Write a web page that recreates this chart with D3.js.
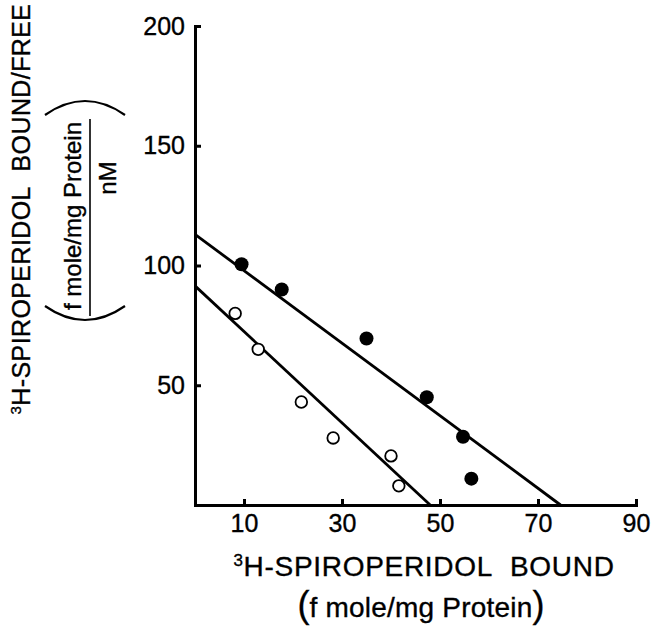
<!DOCTYPE html>
<meta charset="utf-8">
<script src="https://d3js.org/d3.v7.min.js"></script>
<style>

body {
    margin: 0;
    background: #fff;
}

svg text {
    font-family: "Liberation Sans", Arial, Helvetica, sans-serif;
    fill: #000;
    stroke: #000;
    stroke-width: 0.35px;
}

.axis path, .axis line {
    stroke: #000;
    stroke-width: 3px;
}

.fit {
    stroke: #000;
    stroke-width: 2.8px;
    fill: none;
}

</style>
<body>
<script>

// filled circles
var filledX = [9.5, 17.7, 35, 47.3, 54.7, 56.4]
var filledY = [100.5, 90, 69.5, 45, 28.5, 11]

// open circles
var openX = [8.2, 12.9, 21.7, 28.2, 40, 41.6]
var openY = [80, 65, 43, 28, 20.5, 8]

// fitted lines, [start, end]
var fitFilledX = [0, 74.6]
var fitFilledY = [113, 0]
var fitOpenX = [0, 48]
var fitOpenY = [91.5, 0]

var xTicks = [10, 30, 50, 70, 90]
var yTicks = [50, 100, 150, 200]

var width = 653,
    height = 629

var svg = d3.select("body").append("svg")
    .attr("width", width)
    .attr("height", height)

var x = d3.scaleLinear().domain([0, 90]).range([195, 636])
var y = d3.scaleLinear().domain([0, 200]).range([505, 26])

var xAxis = d3.axisBottom(x)
    .tickValues(xTicks)
    .tickSizeInner(-6)
    .tickSizeOuter(0)
    .tickPadding(9)

var yAxis = d3.axisLeft(y)
    .tickValues(yTicks)
    .tickSizeInner(-6)
    .tickSizeOuter(0)
    .tickPadding(10)

var gx = svg.append("g")
    .attr("class", "axis")
    .attr("transform", "translate(0," + y(0) + ")")
    .call(xAxis)

var gy = svg.append("g")
    .attr("class", "axis")
    .attr("transform", "translate(" + x(0) + ",0)")
    .call(yAxis)

svg.selectAll(".axis text")
    .style("font-size", "25px")
    .style("font-family", "'Liberation Sans', Arial, sans-serif")

svg.selectAll(".axis .domain").attr("stroke-linecap", "square")

// fitted lines
function fitLine(xs, ys) {
    return d3.line()
        .x(function(d) { return x(d[0]) })
        .y(function(d) { return y(d[1]) })(d3.zip(xs, ys))
}

svg.append("path").attr("class", "fit").attr("d", fitLine(fitFilledX, fitFilledY))
svg.append("path").attr("class", "fit").attr("d", fitLine(fitOpenX, fitOpenY))

// points
svg.selectAll(".filled")
    .data(d3.zip(filledX, filledY))
    .enter().append("circle")
    .attr("class", "filled")
    .attr("cx", function(d) { return x(d[0]) })
    .attr("cy", function(d) { return y(d[1]) })
    .attr("r", 7)
    .attr("fill", "#000")

svg.selectAll(".open")
    .data(d3.zip(openX, openY))
    .enter().append("circle")
    .attr("class", "open")
    .attr("cx", function(d) { return x(d[0]) })
    .attr("cy", function(d) { return y(d[1]) })
    .attr("r", 5.8)
    .attr("fill", "#fff")
    .attr("stroke", "#000")
    .attr("stroke-width", 1.8)

// x axis title
var xt = svg.append("text")
    .attr("x", 424)
    .attr("y", 576)
    .attr("text-anchor", "middle")
    .style("font-size", "28px")
    .style("letter-spacing", "0.7px")
xt.append("tspan").text("3")
    .style("font-size", "17px")
    .attr("dy", "-10")
xt.append("tspan").text("H-SPIROPERIDOL\u00a0\u00a0BOUND")
    .attr("dy", "10")

var xt2 = svg.append("text")
    .attr("x", 421)
    .attr("y", 617)
    .attr("text-anchor", "middle")
    .style("font-size", "28px")
    .style("letter-spacing", "0.2px")
xt2.append("tspan").text("(").style("font-size", "36px")
xt2.append("tspan").text("f mole/mg Protein")
xt2.append("tspan").text(")").style("font-size", "36px")

// y axis title
var yt = svg.append("g")
    .attr("transform", "translate(30,209) rotate(-90)")

var yt1 = yt.append("text")
    .attr("text-anchor", "middle")
    .style("font-size", "25px")
    .style("letter-spacing", "0.4px")
yt1.append("tspan").text("3")
    .style("font-size", "15px")
    .attr("dy", "-9")
yt1.append("tspan").text("H-SPIROPERIDOL\u00a0\u00a0BOUND/FREE")
    .attr("dy", "9")

var frac = svg.append("g")
    .attr("transform", "translate(85,216) rotate(-90)")

frac.append("text")
    .attr("x", 0)
    .attr("y", -4)
    .attr("text-anchor", "middle")
    .style("font-size", "24px")
    .text("f mole/mg Protein")

frac.append("line")
    .attr("x1", -100).attr("x2", 97)
    .attr("y1", 5).attr("y2", 5)
    .attr("stroke", "#000")
    .attr("stroke-width", 1.6)

frac.append("text")
    .attr("x", 38)
    .attr("y", 31)
    .attr("text-anchor", "middle")
    .style("font-size", "24px")
    .text("nM")

// big parentheses
frac.append("path")
    .attr("d", "M-90,-40 Q-118,0 -90,40")
    .attr("fill", "none")
    .attr("stroke", "#000")
    .attr("stroke-width", 2.2)

frac.append("path")
    .attr("d", "M101,-40 Q129,0 101,40")
    .attr("fill", "none")
    .attr("stroke", "#000")
    .attr("stroke-width", 2.2)

</script>
</body>
